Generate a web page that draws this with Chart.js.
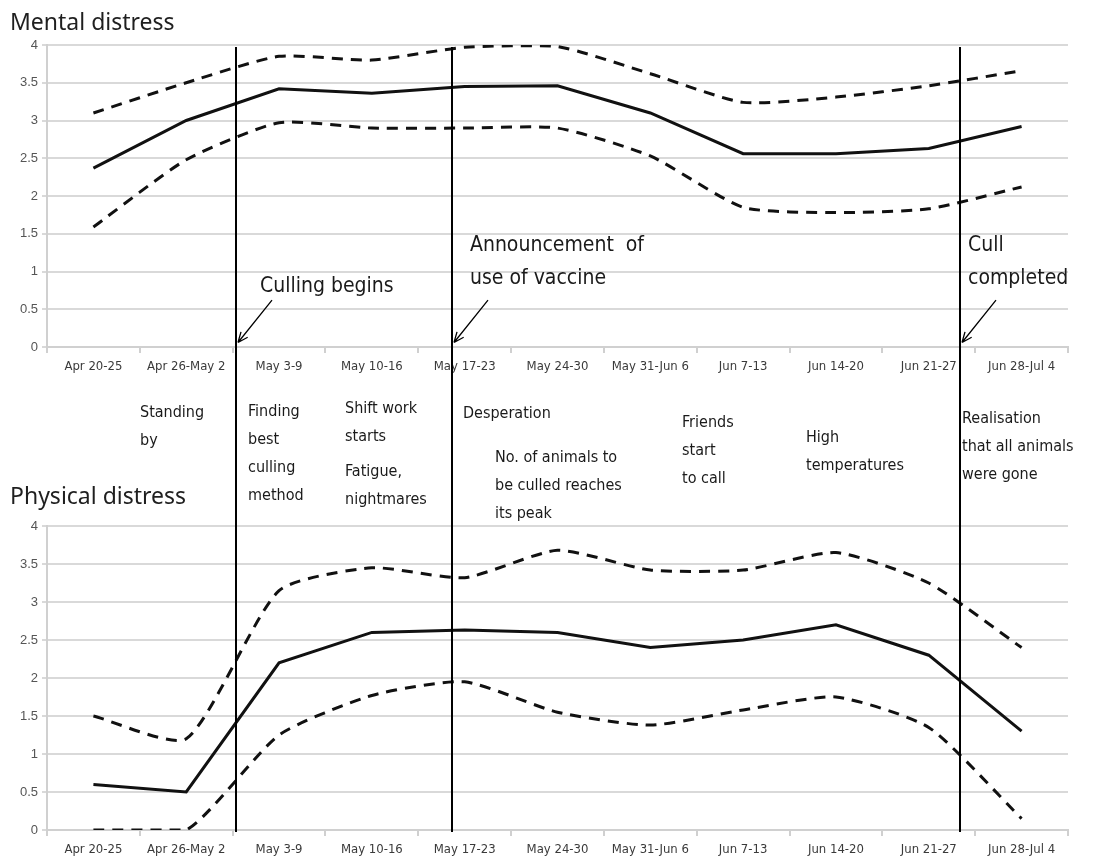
<!DOCTYPE html>
<html>
<head>
<title>Mental and physical distress</title>
<script src="https://cdn.jsdelivr.net/npm/chart.js@4.4.0/dist/chart.umd.min.js"></script>
<style>
body { margin:0; background:#fff; width:1095px; height:866px; position:relative; overflow:hidden; }
#top, #bottom { position:absolute; left:0; width:1095px; }
#top { top:0; height:500px; }
#bottom { top:500px; height:366px; }
.title { position:absolute; left:10px; font-family:'Noto Sans', sans-serif; font-size:23px; color:#1f1f1f; white-space:nowrap; z-index:2; }
.note { position:absolute; font-family:'Liberation Sans Narrow', 'DejaVu Sans Condensed', sans-serif; font-size:21px; line-height:33px; color:#1a1a1a; white-space:pre; z-index:2; }
.mid { position:absolute; font-family:'DejaVu Sans Condensed', 'DejaVu Sans', sans-serif; font-size:16px; line-height:28px; color:#1a1a1a; white-space:pre; z-index:2; }
</style>
</head>
<body>
<div class="title" style="top:5px;">Mental distress</div>
<div class="title" style="top:479px;">Physical distress</div>

<div class="note" style="left:260px; top:269px;">Culling begins</div>
<div class="note" style="left:470px; top:228px;">Announcement  of
use of vaccine</div>
<div class="note" style="left:968px; top:228px;">Cull
completed</div>

<div class="mid" style="left:140px; top:398px;">Standing
by</div>
<div class="mid" style="left:248px; top:397px;">Finding
best
culling
method</div>
<div class="mid" style="left:345px; top:394px;">Shift work
starts</div>
<div class="mid" style="left:345px; top:457px;">Fatigue,
nightmares</div>
<div class="mid" style="left:463px; top:399px;">Desperation</div>
<div class="mid" style="left:495px; top:443px;">No. of animals to
be culled reaches
its peak</div>
<div class="mid" style="left:682px; top:408px;">Friends
start
to call</div>
<div class="mid" style="left:806px; top:423px;">High
temperatures</div>
<div class="mid" style="left:962px; top:404px;">Realisation
that all animals
were gone</div>

<canvas id="top" width="1095" height="500"></canvas>
<canvas id="bottom" width="1095" height="366"></canvas>
<script>
var weeks = ['Apr 20-25', 'Apr 26-May 2', 'May 3-9', 'May 10-16', 'May 17-23', 'May 24-30',
             'May 31-Jun 6', 'Jun 7-13', 'Jun 14-20', 'Jun 21-27', 'Jun 28-Jul 4'];

var mentalMean  = [2.37, 3.0, 3.42, 3.36, 3.45, 3.46, 3.1, 2.56, 2.56, 2.63, 2.92];
var mentalUpper = [3.1, 3.5, 3.85, 3.8, 3.97, 3.98, 3.62, 3.24, 3.31, 3.46, 3.66];
var mentalLower = [1.59, 2.48, 2.97, 2.9, 2.9, 2.9, 2.53, 1.85, 1.78, 1.83, 2.12];

var physicalMean  = [0.6, 0.5, 2.2, 2.6, 2.63, 2.6, 2.4, 2.5, 2.7, 2.3, 1.3];
var physicalUpper = [1.5, 1.2, 3.15, 3.45, 3.32, 3.68, 3.42, 3.42, 3.65, 3.25, 2.4];
var physicalLower = [0, 0, 1.25, 1.77, 1.95, 1.55, 1.38, 1.58, 1.75, 1.35, 0.15];

// event dates, in week units (culling begins, vaccine announced, cull completed)
var events = [1.54, 3.86, 9.34];

var eventLines = {
  id: 'eventLines',
  afterDatasetsDraw: function(chart, args, opts) {
    var ctx = chart.ctx, area = chart.chartArea;
    var xs = chart.scales.x, ys = chart.scales.y;
    var y0 = opts.fromTop ? 0 : area.top + 2;
    var y1 = opts.toBottom ? chart.height : area.bottom + 2;
    ctx.save();
    ctx.strokeStyle = '#000';
    ctx.lineWidth = 2;
    events.forEach(function(e) {
      var x = Math.round(xs.getPixelForValue(e));
      ctx.beginPath();
      ctx.moveTo(x, y0);
      ctx.lineTo(x, y1);
      ctx.stroke();
      if (opts.arrows) {
        var sx = x + 36, sy = ys.getPixelForValue(0.62);
        var ex = x + 2, ey = ys.getPixelForValue(0.06);
        var a = Math.atan2(ey - sy, ex - sx);
        ctx.lineWidth = 1.3;
        ctx.beginPath();
        ctx.moveTo(sx, sy);
        ctx.lineTo(ex, ey);
        ctx.moveTo(ex, ey);
        ctx.lineTo(ex - 11 * Math.cos(a - 0.4), ey - 11 * Math.sin(a - 0.4));
        ctx.moveTo(ex, ey);
        ctx.lineTo(ex - 11 * Math.cos(a + 0.4), ey - 11 * Math.sin(a + 0.4));
        ctx.stroke();
        ctx.lineWidth = 2;
      }
    });
    ctx.restore();
  }
};

function makeSets(mean, upper, lower) {
  var dashed = { borderColor: '#111', borderWidth: 3, borderDash: [11, 8], pointRadius: 0, tension: 0.2, fill: false };
  return [
    Object.assign({ data: upper }, dashed),
    { data: mean, borderColor: '#111', borderWidth: 3, pointRadius: 0, tension: 0, fill: false },
    Object.assign({ data: lower }, dashed)
  ];
}

function makeChart(id, sets, padTop, xHeight, lineOpts) {
  return new Chart(document.getElementById(id), {
    type: 'line',
    data: { labels: weeks, datasets: sets },
    plugins: [eventLines],
    options: {
      responsive: false,
      devicePixelRatio: 1,
      animation: false,
      layout: { padding: { top: padTop, right: 27, left: 0, bottom: 0 } },
      plugins: { legend: { display: false }, tooltip: { enabled: false }, eventLines: lineOpts },
      scales: {
        x: {
          offset: true,
          grid: { offset: true, drawOnChartArea: false, tickLength: 6, color: '#d0d0d0', lineWidth: 2 },
          border: { color: '#d0d0d0', width: 2 },
          ticks: { autoSkip: false, maxRotation: 0, padding: 6, color: '#3a3a3a',
                   font: { family: "'Liberation Sans Narrow', 'DejaVu Sans Condensed', sans-serif", size: 13 } },
          afterFit: function(s) { s.height = xHeight; }
        },
        y: {
          min: 0, max: 4,
          grid: { color: '#d9d9d9', lineWidth: 2, tickLength: 5 },
          border: { color: '#d0d0d0', width: 2 },
          ticks: { stepSize: 0.5, padding: 4, color: '#555',
                   font: { family: "'Liberation Sans', sans-serif", size: 13 },
                   callback: function(v) { return String(v); } },
          afterFit: function(s) { s.width = 47; }
        }
      }
    }
  });
}

makeChart('top', makeSets(mentalMean, mentalUpper, mentalLower), 45, 153,
          { fromTop: false, toBottom: true, arrows: true });
makeChart('bottom', makeSets(physicalMean, physicalUpper, physicalLower), 26, 36,
          { fromTop: true, toBottom: false, arrows: false });
</script>
</body>
</html>
